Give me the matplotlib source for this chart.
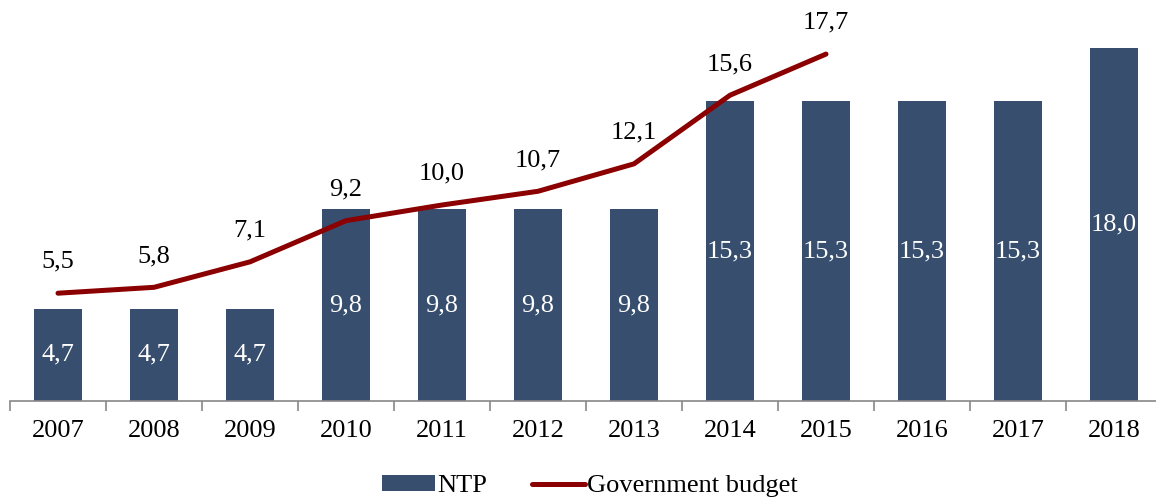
import matplotlib
matplotlib.use("Agg")
import matplotlib.pyplot as plt
import numpy as np
from matplotlib.patches import Patch
from matplotlib.lines import Line2D

years = ["2007", "2008", "2009", "2010", "2011", "2012", "2013", "2014", "2015", "2016", "2017", "2018"]
ntp = [4.7, 4.7, 4.7, 9.8, 9.8, 9.8, 9.8, 15.3, 15.3, 15.3, 15.3, 18.0]
budget = [5.5, 5.8, 7.1, 9.2, 10.0, 10.7, 12.1, 15.6, 17.7]

plt.rcParams['font.family'] = ['Liberation Serif', 'DejaVu Serif']

W, H = 1156, 497
fig = plt.figure(figsize=(W / 100, H / 100), dpi=100)
ax_left, ax_right = 10, 1162
ax_bottom, ax_top = 401, 10
ax = fig.add_axes([ax_left / W, (H - ax_bottom) / H, (ax_right - ax_left) / W, (ax_bottom - ax_top) / H])

x = np.arange(len(years))
bar_color = "#374e6e"
line_color = "#8b0000"
fs = 19

ax.bar(x, ntp, width=0.49, color=bar_color, zorder=2)
for xi, v in zip(x, ntp):
    ax.text(xi, v / 2, f"{v:.1f}".replace(".", ","), ha="center", va="center",
            color="white", fontsize=fs, zorder=4)

xb = x[:len(budget)]
ax.plot(xb, budget, color=line_color, linewidth=3.6, solid_capstyle="round", zorder=3)
for xi, v in zip(xb, budget):
    ax.annotate(f"{v:.1f}".replace(".", ","), (xi, v), xytext=(0, 22.5), textcoords="offset points",
                ha="center", va="center", fontsize=fs, color="black")

ax.set_xlim(-0.5, len(years) - 0.5)
ax.set_ylim(0, (ax_bottom - ax_top) / 19.6)
for s in ["top", "right", "left"]:
    ax.spines[s].set_visible(False)
ax.spines["bottom"].set_color("#888888")
ax.spines["bottom"].set_linewidth(1.2)
ax.set_yticks([])
ax.set_xticks(x)
ax.set_xticklabels(years, fontsize=fs)
ax.tick_params(axis="x", which="major", length=0, pad=14)
ax.set_xticks(np.arange(-0.5, len(years), 1.0), minor=True)
ax.tick_params(axis="x", which="minor", length=7, color="#888888", width=1.2)

handles = [Patch(facecolor=bar_color, edgecolor="none"),
           Line2D([0], [0], color=line_color, linewidth=3.6, solid_capstyle="round")]
fig.legend(handles, ["NTP", "Government budget"], loc="center", bbox_to_anchor=(590 / W, (H - 486) / H),
           ncol=2, frameon=False, fontsize=fs, handlelength=2.0, handleheight=0.6,
           handletextpad=0.08, columnspacing=1.7, borderpad=0.2)

fig.savefig("out.png", dpi=100)
